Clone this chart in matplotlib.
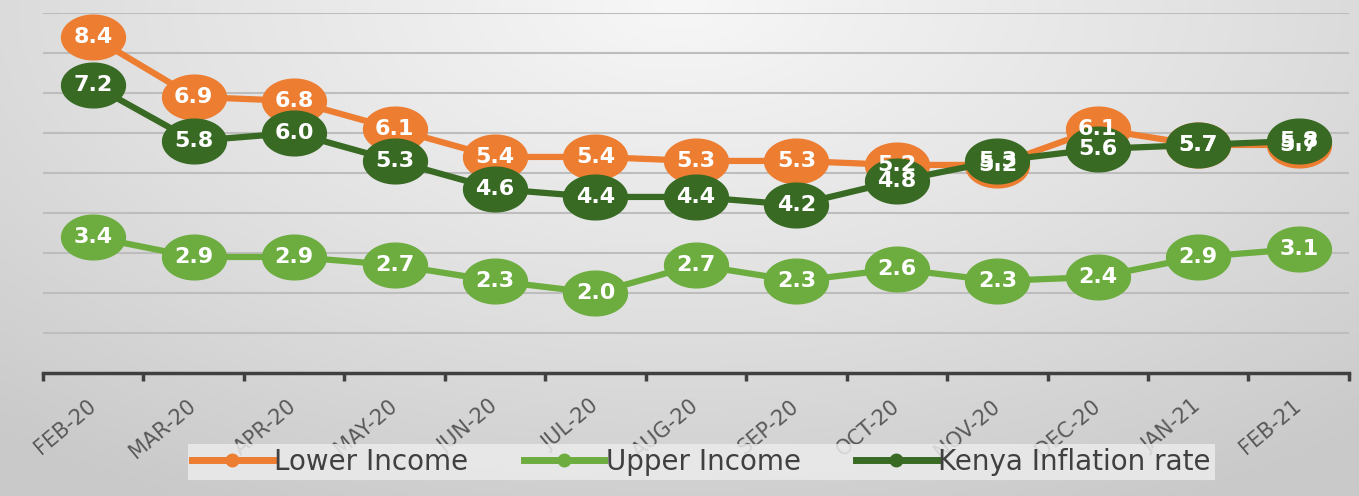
import numpy as np
import matplotlib
matplotlib.use("Agg")
import matplotlib.pyplot as plt
from matplotlib.path import Path
from matplotlib.colors import LinearSegmentedColormap

months = ["FEB-20", "MAR-20", "APR-20", "MAY-20", "JUN-20", "JUL-20", "AUG-20",
          "SEP-20", "OCT-20", "NOV-20", "DEC-20", "JAN-21", "FEB-21"]
lower_income = [8.4, 6.9, 6.8, 6.1, 5.4, 5.4, 5.3, 5.3, 5.2, 5.2, 6.1, 5.7, 5.7]
upper_income = [3.4, 2.9, 2.9, 2.7, 2.3, 2.0, 2.7, 2.3, 2.6, 2.3, 2.4, 2.9, 3.1]
kenya_rate = [7.2, 5.8, 6.0, 5.3, 4.6, 4.4, 4.4, 4.2, 4.8, 5.3, 5.6, 5.7, 5.8]

series = [
    ("Lower Income", lower_income, "#ED7D31"),
    ("Upper Income", upper_income, "#6DAD3F"),
    ("Kenya Inflation rate", kenya_rate, "#386A23"),
]

# wide ellipse marker (the original picture is stretched sideways)
t = np.linspace(0, 2 * np.pi, 60)
ellipse = Path(np.column_stack([np.cos(t), 0.7 * np.sin(t)]), closed=True)

fig = plt.figure(figsize=(13.59, 4.96), dpi=100)

# gray gradient background, lighter at top centre
bg = fig.add_axes([0, 0, 1, 1], zorder=-10)
yy, xx = np.mgrid[0:1:200j, 0:1:400j]
dist = np.sqrt(((xx - 0.5) / 0.75) ** 2 + ((yy - 0.0) / 1.1) ** 2)
cmap = LinearSegmentedColormap.from_list("bg", ["#f7f7f7", "#e2e2e2", "#c9c9c9"])
bg.imshow(dist, cmap=cmap, aspect="auto", extent=[0, 1, 1, 0], vmin=0, vmax=1.05)
bg.axis("off")

ax = fig.add_axes([0.0316, 0.248, 0.961, 0.726])
ax.patch.set_alpha(0)
x = np.arange(len(months))

for name, vals, color in series:
    ax.plot(x, vals, color=color, lw=4.5, marker=ellipse, ms=46,
            mec=color, mfc=color, zorder=3, label=name)

for name, vals, color in series:
    for xi, v in zip(x, vals):
        ax.text(xi, v, f"{v:.1f}", ha="center", va="center", color="white",
                fontsize=16, fontweight="bold", zorder=5)

ax.set_xlim(-0.5, len(months) - 0.5)
ax.set_ylim(0, 9)
ax.set_yticks(np.arange(1, 10))
ax.yaxis.grid(True, color="#bdbdbd", lw=1.5)
ax.tick_params(axis="y", length=0, labelleft=False)

ax.set_xticks(x)
ax.set_xticklabels(months, rotation=40, ha="right", va="center",
                   rotation_mode="anchor", fontsize=15, color="#595959")
ax.set_xticks(np.arange(-0.5, len(months)), minor=True)
ax.tick_params(axis="x", which="major", length=0, pad=22)
ax.tick_params(axis="x", which="minor", length=6, width=2.5, color="#404040",
               direction="out")
ax.set_axisbelow(True)

for side in ["top", "right", "left"]:
    ax.spines[side].set_visible(False)
ax.spines["bottom"].set_color("#404040")
ax.spines["bottom"].set_linewidth(2.5)

handles = [plt.Line2D([], [], color=c, lw=5, marker="o", ms=9) for _, _, c in series]
leg = fig.legend(handles, [s[0] for s in series], loc="center",
                 bbox_to_anchor=(0.516, 0.069), ncol=3, frameon=True,
                 fontsize=20, handlelength=2.9, handletextpad=0.05,
                 columnspacing=2.0, borderpad=0.15, borderaxespad=0,
                 fancybox=False)
leg.get_frame().set_facecolor("#ebebeb")
leg.get_frame().set_edgecolor("none")
leg.get_frame().set_alpha(0.85)
for txt in leg.get_texts():
    txt.set_color("#404040")

fig.savefig("out.png", dpi=100)
